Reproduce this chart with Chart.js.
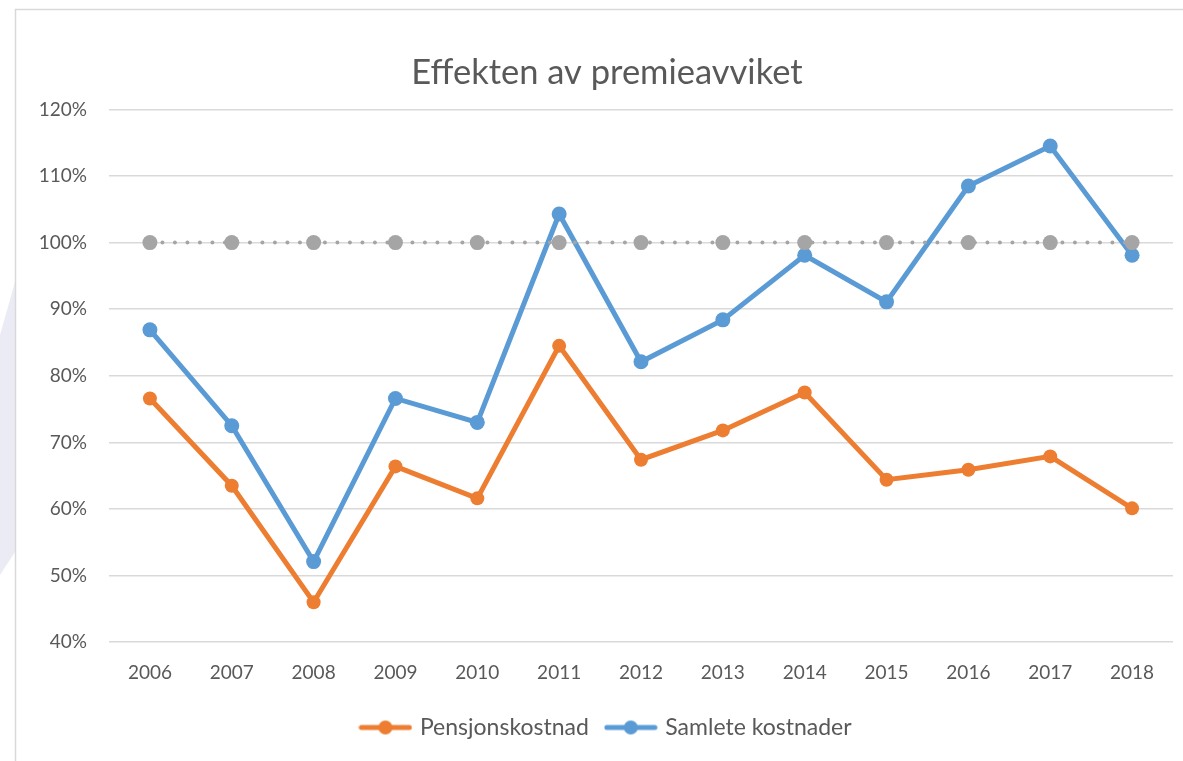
<!DOCTYPE html>
<html>
<head>
<meta charset="utf-8">
<script src="https://cdn.jsdelivr.net/npm/chart.js@4/dist/chart.umd.min.js"></script>
<style>
  html, body { margin: 0; padding: 0; background: #fff; overflow: hidden; }
  #wrap { width: 1183px; height: 761px; overflow: hidden; position: relative; }
  #inner { width: 1214px; height: 761px; position: relative; }
</style>
</head>
<body>
<div id="wrap"><div id="inner"><canvas id="chart"></canvas></div></div>
<script>
  'use strict'

  const years = ['2006', '2007', '2008', '2009', '2010', '2011', '2012', '2013', '2014', '2015', '2016', '2017', '2018'];
  const pensjonskostnad = [76.6, 63.5, 46.0, 66.4, 61.6, 84.5, 67.4, 71.8, 77.5, 64.4, 65.9, 67.9, 60.1];
  const samleteKostnader = [86.9, 72.5, 52.1, 76.6, 73.0, 104.3, 82.1, 88.4, 98.1, 91.1, 108.5, 114.5, 98.1];
  const referanse = [100, 100, 100, 100, 100, 100, 100, 100, 100, 100, 100, 100, 100];

  const ORANGE = '#ED7D31';
  const BLUE = '#5B9BD5';
  const GREY = '#A5A5A5';
  const TEXT = '#595959';
  const FONT = 'Lato, "Open Sans", sans-serif';

  // line + marker legend symbol, like the Excel one
  function legendSymbol(color) {
    const c = document.createElement('canvas');
    c.width = 54
    c.height = 16
    const ctx = c.getContext('2d');
    ctx.strokeStyle = color
    ctx.lineWidth = 5
    ctx.lineCap = 'round'
    ctx.beginPath()
    ctx.moveTo(3, 8)
    ctx.lineTo(51, 8)
    ctx.stroke()
    ctx.fillStyle = color
    ctx.beginPath()
    ctx.arc(27, 8, 7, 0, Math.PI * 2)
    ctx.fill()
    return c
  }

  const frame = {
    id: 'frame',
    beforeDraw(chart) {
      const ctx = chart.ctx;
      ctx.save()
      // faint watermark at the left edge
      ctx.fillStyle = 'rgba(226, 226, 242, 0.7)'
      ctx.beginPath()
      ctx.moveTo(15, 282)
      ctx.lineTo(15, 552)
      ctx.lineTo(0, 575)
      ctx.lineTo(0, 335)
      ctx.closePath()
      ctx.fill()
      ctx.fillStyle = '#fff'
      ctx.fillRect(16, 10, chart.width, chart.height)
      ctx.strokeStyle = '#D9D9D9'
      ctx.lineWidth = 1.5
      ctx.strokeRect(15.5, 9.5, chart.width + 20, chart.height + 20)
      ctx.restore()
    }
  };

  new Chart(document.getElementById('chart'), {
    type: 'line',
    data: {
      labels: years,
      datasets: [
        {
          label: 'Referanse',
          data: referanse,
          borderColor: GREY,
          backgroundColor: GREY,
          borderWidth: 4,
          borderDash: [0, 12.5],
          borderCapStyle: 'round',
          pointRadius: 7.5,
          pointHoverRadius: 7.5,
          pointBorderWidth: 0,
          order: 0
        },
        {
          label: 'Pensjonskostnad',
          data: pensjonskostnad,
          borderColor: ORANGE,
          backgroundColor: ORANGE,
          borderWidth: 5,
          pointRadius: 7,
          pointHoverRadius: 7,
          pointBorderWidth: 0,
          order: 1
        },
        {
          label: 'Samlete kostnader',
          data: samleteKostnader,
          borderColor: BLUE,
          backgroundColor: BLUE,
          borderWidth: 5,
          pointRadius: 7.5,
          pointHoverRadius: 7.5,
          pointBorderWidth: 0,
          order: 2
        }
      ]
    },
    options: {
      responsive: true,
      maintainAspectRatio: false,
      animation: false,
      layout: { padding: { left: 0, right: 0, top: 0, bottom: 12 } },
      scales: {
        x: {
          offset: true,
          grid: { display: false, drawTicks: false },
          border: { display: false },
          ticks: { color: TEXT, font: { family: FONT, size: 19 }, padding: 19, maxRotation: 0 },
          afterFit: scale => { scale.height = scale.height - 6 }
        },
        y: {
          min: 40,
          max: 120,
          grid: { color: '#D9D9D9', lineWidth: 1.5, drawTicks: false },
          border: { display: false },
          ticks: {
            stepSize: 10,
            color: TEXT,
            font: { family: FONT, size: 19 },
            padding: 22,
            callback: v => v + '%'
          },
          afterFit: scale => { scale.width = 109 }
        },
        // empty margin on the right so title and legend centre on the whole chart object
        spacer: {
          position: 'right',
          grid: { display: false, drawTicks: false },
          border: { display: false },
          ticks: { display: false },
          afterFit: scale => { scale.width = 41 }
        }
      },
      plugins: {
        title: {
          display: true,
          text: 'Effekten av premieavviket',
          color: TEXT,
          font: { family: FONT, size: 34.5, weight: 'normal' },
          padding: { top: 52, bottom: 16 }
        },
        legend: {
          position: 'bottom',
          labels: {
            color: TEXT,
            font: { family: FONT, size: 23 },
            usePointStyle: true,
            pointStyleWidth: 46,
            padding: 19,
            filter: item => item.text !== 'Referanse',
            generateLabels: chart => {
              const items = Chart.defaults.plugins.legend.labels.generateLabels(chart);
              items.forEach(item => {
                const ds = chart.data.datasets[item.datasetIndex];
                item.pointStyle = legendSymbol(ds.borderColor)
              })
              return items
            }
          }
        },
        tooltip: { enabled: false }
      }
    },
    plugins: [frame]
  })
</script>
</body>
</html>
